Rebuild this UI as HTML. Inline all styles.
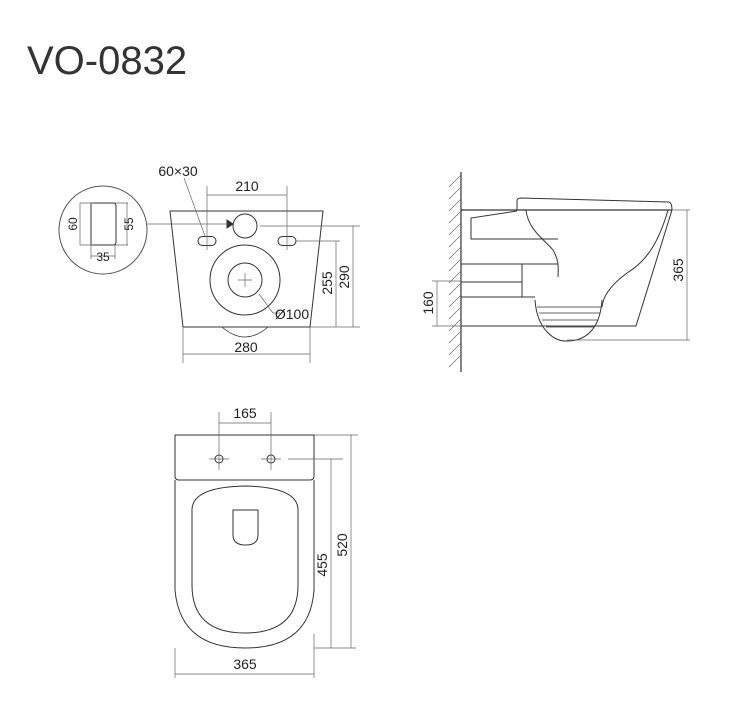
<!DOCTYPE html>
<html><head><style>body{margin:0;background:#fff}svg{display:block}</style></head><body>
<svg width="745" height="728" viewBox="0 0 745 728" xmlns="http://www.w3.org/2000/svg" font-family="Liberation Sans, Arial, sans-serif">
<text x="27" y="74" font-size="40" fill="#333">VO-0832</text>
<g fill="none" stroke="#333" stroke-width="1">
<!-- detail circle -->
<circle cx="103" cy="230" r="44" stroke="#555"/>
<path d="M91 203h22q3 0 3 3v36q0 3-3 3h-22z"/>
<path d="M80 203h13M80 245h13M80 203v42M114 203h14M114 245h14M127 203v42M91 245v14M115 245v14M91 256h24" stroke="#666" stroke-width=".7"/>
<path d="M147 224h80" stroke="#666" stroke-width=".8"/>
<!-- front body -->
<path d="M170 211L323 211L310 327L183 327Z"/>
<circle cx="245" cy="226" r="12"/>
<rect x="198" y="236.5" width="18" height="9" rx="4.5"/>
<rect x="278" y="236.5" width="18" height="9" rx="4.5"/>
<circle cx="245" cy="280" r="35"/>
<circle cx="245" cy="280" r="17"/>
<path d="M222 327Q245 347 268 327" stroke-width=".8"/>
<g stroke="#666" stroke-width=".7">
<path d="M238 280h14M245 273v14"/>
<path d="M207 186v64M287 186v64M207 195h80"/>
<path d="M184 178L205 236"/>
<path d="M260 226h100M296 241h44M310 327h50"/>
<path d="M336 241v86M353 226v101"/>
<path d="M183 327v36M310 327v36M183 354h127"/>
<path d="M259 294L273 313H280"/>
</g>
<path d="M227 220l6 4l-6 4z" fill="#333"/>
<!-- side view -->
<path d="M461 172V372" stroke-width="1.2"/>
<path d="M461 175l-12 12M461 187l-12 12M461 199l-12 12M461 211l-12 12M461 223l-12 12M461 235l-12 12M461 247l-12 12M461 259l-12 12M461 271l-12 12M461 283l-12 12M461 295l-12 12M461 307l-12 12M461 319l-12 12M461 331l-12 12M461 343l-12 12M461 355l-12 12" stroke="#666" stroke-width=".7"/>
<path d="M461 210H672" stroke-width="1.2"/>
<path d="M517 210V201q0-3 4-3L669 202q3 1 3 8"/>
<path d="M672 210L636 326H461"/>
<path d="M526 210C528 230 545 240 553 250C560 262 558 270 558 277"/>
<path d="M668 210C658 245 645 262 627 273C608 287 603 298 602 307"/>
<path d="M535 300C537 330 555 342 567 341C585 341 600 330 602 300"/>
<path d="M537 307H601M539 313H600M542 320H598M546 327H594" stroke-width=".7"/>
<path d="M517 211L471 218V239H558M461 264H558M461 282H522M461 297H522V264M522 297H535"/>
<g stroke="#666" stroke-width=".7">
<path d="M437 281V326M432 281H461M432 326H461"/>
<path d="M687 210V340M672 210H690M567 340H690"/>
</g>
<!-- top view -->
<path d="M175 435H314V476Q314 480 310 480H179Q175 480 175 476Z"/>
<path d="M175 480V590Q180 648 245 648Q310 648 314 590V480"/>
<path d="M192 510Q192 487 245 486Q298 487 298 510V585Q298 633 245 633Q192 633 192 585Z"/>
<path d="M233 510H258V535Q258 545 245.5 545Q233 545 233 535Z"/>
<circle cx="219" cy="459" r="4"/><circle cx="271" cy="459" r="4"/>
<g stroke="#666" stroke-width=".7">
<path d="M209 459h20M261 459h20M219 412v58M271 412v58M219 423h52"/>
<path d="M175 648v30M314 634v44M175 674h139"/>
<path d="M288 459h55M331 459v189M314 435h44M351 435v213M314 648h42"/>
</g>
</g>
<g font-size="14" fill="#222" text-anchor="middle">
<text x="178" y="176">60×30</text>
<text x="247" y="191">210</text>
<text x="246" y="352">280</text>
<text x="292" y="319">Ø100</text>
<text x="103" y="261" font-size="12">35</text>
<text transform="translate(77,224) rotate(-90)" font-size="12">60</text>
<text transform="translate(133,224) rotate(-90)" font-size="12">55</text>
<text transform="translate(332,283) rotate(-90)">255</text>
<text transform="translate(349,277) rotate(-90)">290</text>
<text transform="translate(433,303) rotate(-90)">160</text>
<text transform="translate(683,270) rotate(-90)">365</text>
<text x="245" y="418">165</text>
<text x="245" y="669">365</text>
<text transform="translate(327,565) rotate(-90)">455</text>
<text transform="translate(347,545) rotate(-90)">520</text>
</g>
</svg>
</body></html>
